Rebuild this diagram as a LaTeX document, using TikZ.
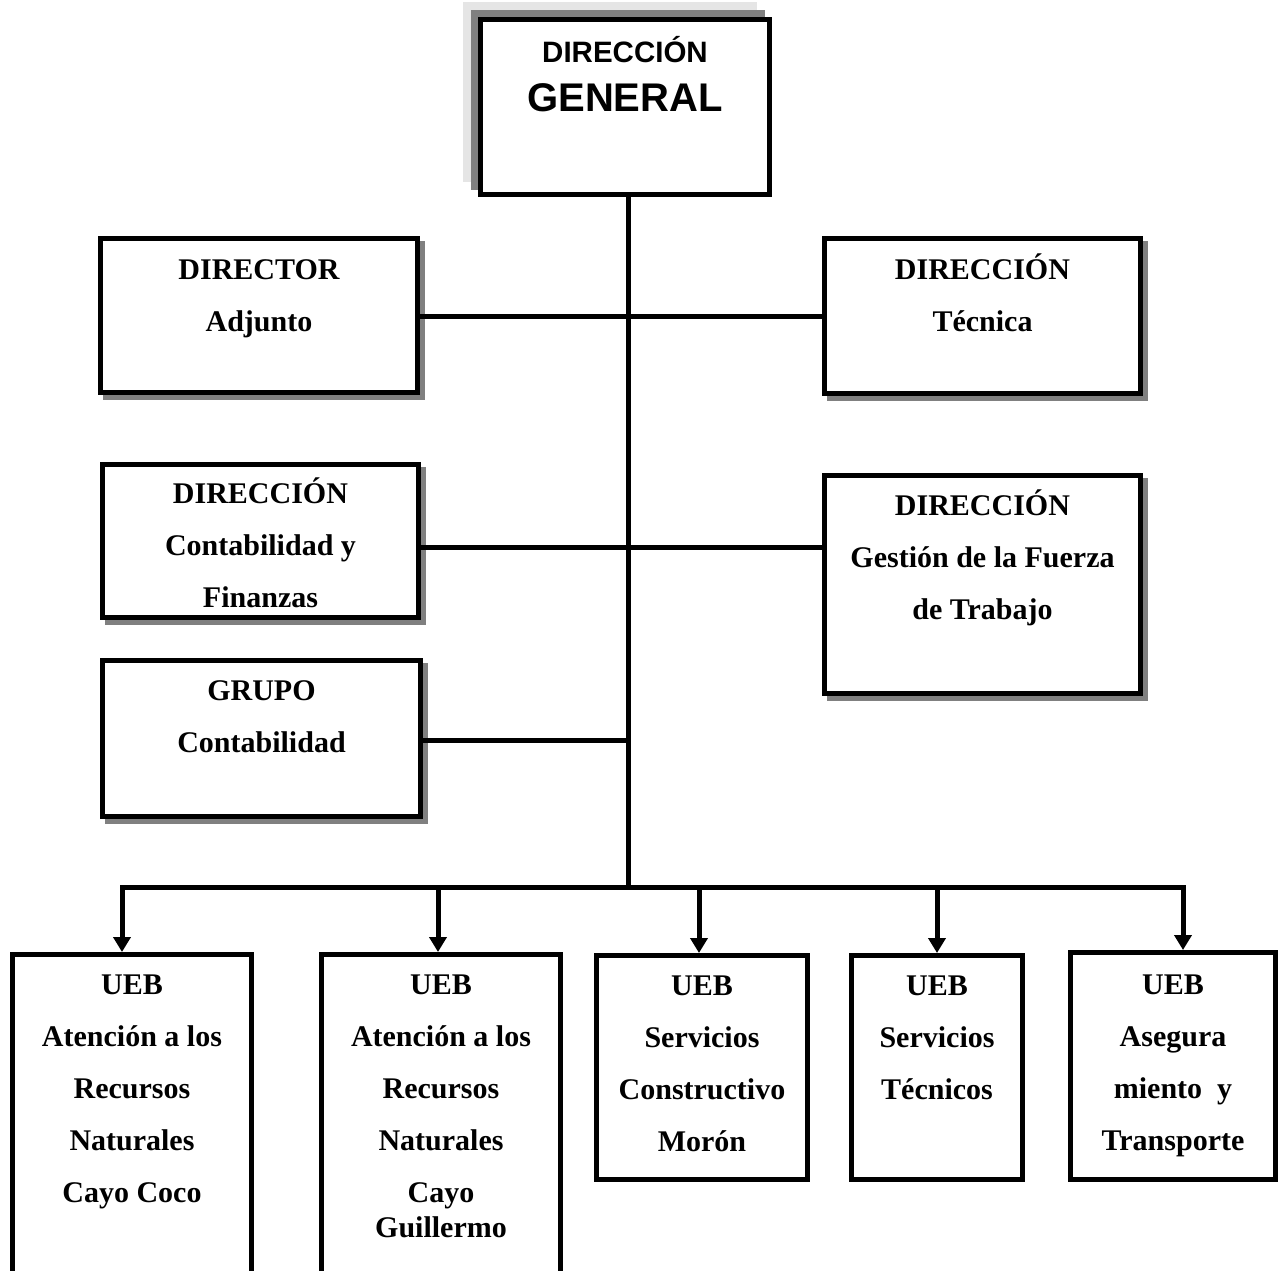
\documentclass[tikz,border=0pt]{standalone}
\usepackage{fontspec}
\setmainfont{Liberation Serif}
\newfontfamily\headfont{Liberation Sans}
\usetikzlibrary{arrows.meta,backgrounds}

\tikzset{
	orgbox/.style={draw, line width=5pt, fill=white, inner sep=0pt},
	boxtext/.style={font=\bfseries\fontsize{30}{52}\selectfont, align=flush center, text width=300pt, anchor=base, inner sep=0pt},
	joinline/.style={line width=5pt},
	feedarrow/.style={line width=5pt, -{Triangle[width=17pt,length=15pt]}},
}

\begin{document}
\begin{tikzpicture}[x=1pt,y=1pt,yscale=-1]
		\useasboundingbox (0,0) rectangle (1280,1270);
		\clip (0,0) rectangle (1280,1270);

		% Head office
		\node[orgbox, minimum width=289pt, minimum height=175pt] (dg) at (625,107) {};
		\node[font=\headfont\bfseries\fontsize{29.5}{30}\selectfont, anchor=base, inner sep=0pt] (dgtop) at (625,62) {DIRECCIÓN};
		\node[font=\headfont\bfseries\fontsize{40}{41}\selectfont, anchor=base, inner sep=0pt] (dgbot) at (625,111) {GENERAL};

		% Side offices
		\node[orgbox, minimum width=317pt, minimum height=154pt] (adj) at (259,315.5) {};
		\node[orgbox, minimum width=316pt, minimum height=155pt] (tec) at (982.5,316) {};
		\node[orgbox, minimum width=316pt, minimum height=153pt] (cyf) at (260.5,541) {};
		\node[orgbox, minimum width=316pt, minimum height=218pt] (gft) at (982.5,584.5) {};
		\node[orgbox, minimum width=318pt, minimum height=156pt] (grp) at (261.5,738.5) {};

		\node[boxtext] (adjtxt) at ([shift={(0,43)}]adj.north) {DIRECTOR\\Adjunto};
		\node[boxtext] (tectxt) at ([shift={(0,43)}]tec.north) {DIRECCIÓN\\Técnica};
		\node[boxtext] (cyftxt) at ([shift={(0,41)}]cyf.north) {DIRECCIÓN\\Contabilidad y\\Finanzas};
		\node[boxtext] (gfttxt) at ([shift={(0,42)}]gft.north) {DIRECCIÓN\\Gestión de la Fuerza\\de Trabajo};
		\node[boxtext] (grptxt) at ([shift={(0,42)}]grp.north) {GRUPO\\Contabilidad};

		% Business units (UEB)
		\node[orgbox, minimum width=239pt, minimum height=335.5pt] (ueb1) at (132,1122.25) {};
		\node[orgbox, minimum width=239pt, minimum height=335.5pt] (ueb2) at (441,1122.25) {};
		\node[orgbox, minimum width=211pt, minimum height=224pt] (ueb3) at (702,1067.5) {};
		\node[orgbox, minimum width=171pt, minimum height=224pt] (ueb4) at (937,1067.5) {};
		\node[orgbox, minimum width=205pt, minimum height=227pt] (ueb5) at (1173,1066) {};

		\node[boxtext] (ueb1txt) at ([shift={(0,42)}]ueb1.north) {UEB\\Atención a los\\Recursos\\Naturales\\Cayo Coco};
		\node[boxtext] (ueb2txt) at ([shift={(0,42)}]ueb2.north) {UEB\\Atención a los\\Recursos\\Naturales\\Cayo\\[-17pt]Guillermo};
		\node[boxtext] (ueb3txt) at ([shift={(0,42)}]ueb3.north) {UEB\\Servicios\\Constructivo\\Morón};
		\node[boxtext] (ueb4txt) at ([shift={(0,42)}]ueb4.north) {UEB\\Servicios\\Técnicos};
		\node[boxtext] (ueb5txt) at ([shift={(0,44)}]ueb5.north) {UEB\\Asegura\\miento\enspace y\\Transporte};

		% Shadows behind the boxes
		\begin{scope}[on background layer]
			\fill[black!10] ([shift={(-15,-15)}]dg.north west) rectangle ([shift={(-15,-15)}]dg.south east);
			\fill[black!50] ([shift={(-7.5,-7.5)}]dg.north west) rectangle ([shift={(-7.5,-7.5)}]dg.south east);
			\foreach \n in {adj,tec,cyf,gft,grp}
				\fill[black!50] ([shift={(5,5)}]\n.north west) rectangle ([shift={(5,5)}]\n.south east);
		\end{scope}

		% Trunk and side links
		\coordinate (hub) at (628,887);
		\coordinate (row1) at (628,316);
		\coordinate (row2) at (628,547);
		\coordinate (row3) at (628,740);
		\draw[joinline] (dg.south -| hub) -- (hub);
		\draw[joinline] (row1 -| adj.east) -- (row1 -| tec.west);
		\draw[joinline] (row2 -| cyf.east) -- (row2 -| gft.west);
		\draw[joinline] (row3 -| grp.east) -- (row3);

		% Bus and arrows down to the units
		\foreach \n/\x in {1/122, 2/438, 3/699, 4/937, 5/1183}
			\coordinate (drop\n) at (\x,887);
		\draw[joinline, line cap=rect] (drop1) -- (drop5);
		\foreach \n in {1,...,5}
			\draw[feedarrow] (drop\n) -- (drop\n |- ueb\n.north);
	\end{tikzpicture}
\end{document}
